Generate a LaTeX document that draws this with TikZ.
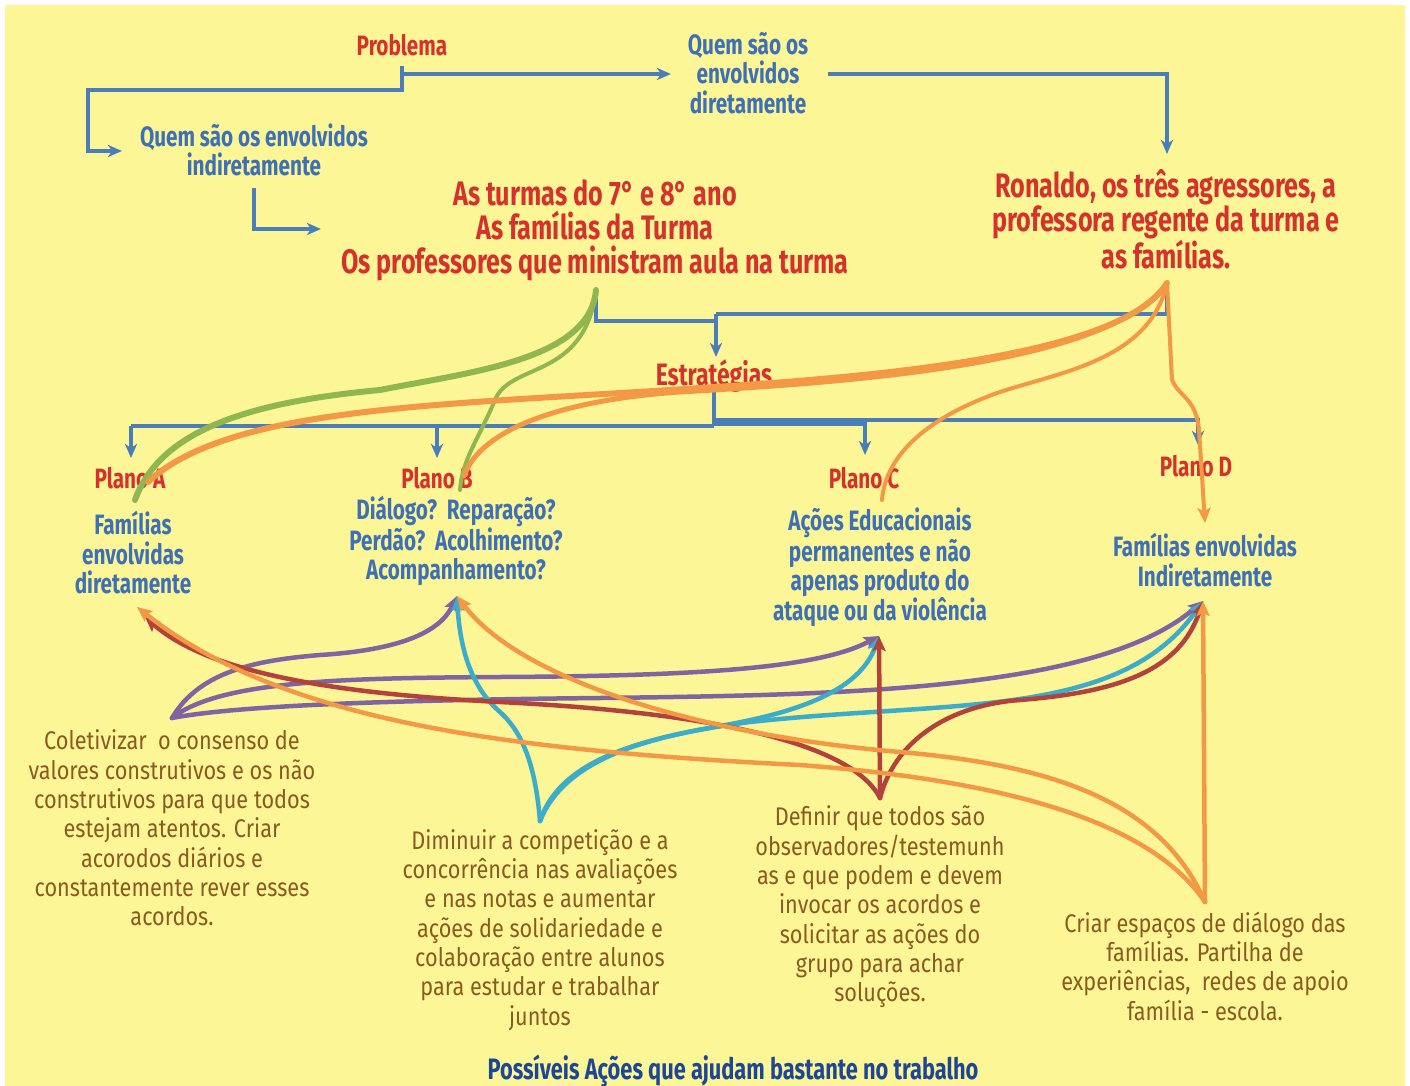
\documentclass[tikz,border=0pt]{standalone}
\usepackage{fontspec}
\usetikzlibrary{arrows.meta}
\newfontfamily\brushfam{Fira Sans}[FakeStretch=0.74]
\newfontfamily\handfam{Fira Sans}[FakeStretch=0.85]
\definecolor{bgy}{RGB}{252,246,150}
\definecolor{tred}{RGB}{214,50,45}
\definecolor{tblue}{RGB}{62,112,182}
\definecolor{tdblue}{RGB}{30,70,150}
\definecolor{cblue}{RGB}{74,126,187}
\definecolor{cgreen}{RGB}{143,182,79}
\definecolor{corange}{RGB}{243,152,68}
\definecolor{cpurple}{RGB}{128,99,161}
\definecolor{ccyan}{RGB}{59,172,201}
\definecolor{cdred}{RGB}{179,66,61}
\definecolor{tbrown}{RGB}{138,90,30}
\newcommand\myfA{\brushfam\bfseries\fontsize{28}{29.5}\selectfont}
\newcommand\myfB{\brushfam\bfseries\fontsize{34}{34}\selectfont}
\newcommand\myfP{\brushfam\bfseries\fontsize{28}{28}\selectfont}
\newcommand\myfE{\brushfam\bfseries\fontsize{31}{31}\selectfont}
\newcommand\myfH{\handfam\fontsize{25.5}{29.3}\selectfont}
\newcommand\myfT{\brushfam\bfseries\fontsize{29.5}{29.5}\selectfont}
\begin{document}
\begin{tikzpicture}[x=1pt,y=-1pt,
  redt/.style={text=tred,align=center,inner sep=0pt},
  bluet/.style={text=tblue,align=center,inner sep=0pt},
  brownt/.style={text=tbrown,align=center,inner sep=0pt,font=\myfH},
  bl/.style={draw=cblue,line width=4.5pt,line join=miter},
  barr/.style={-{Stealth[length=14pt,width=12pt,inset=4pt]}},
  carr/.style={-{Stealth[length=15pt,width=13pt,inset=3pt]}},
  cv/.style={line width=4.5pt,line cap=round},
]
\useasboundingbox (0,0) rectangle (1410,1086);
\fill[white] (0,0) rectangle (1410,1086);
\fill[bgy] (5,5) rectangle (1405,1086);

% ---------------- text nodes
\node[redt,font=\myfP] (probl) at (402,45) {Problema};
\node[bluet,font=\myfA] (dir) at (748,73) {Quem são os\\envolvidos\\diretamente};
\node[bluet,font=\myfA] (indir) at (254,150) {Quem são os envolvidos\\indiretamente};
\node[redt,font=\myfB] (turmas) at (595,230) {As turmas do 7° e 8° ano\\As famílias da Turma\\Os professores que ministram aula na turma};
\node[redt,font=\myfB] (ronaldo) at (1166,219) {Ronaldo, os três agressores, a\\professora regente da turma e\\as famílias.};
\node[redt,font=\myfE] (estr) at (714,376) {Estratégias};
\node[redt,font=\myfP] (pA) at (130,478) {Plano A};
\node[redt,font=\myfP] (pB) at (437,478) {Plano B};
\node[redt,font=\myfP] (pC) at (864,478) {Plano C};
\node[redt,font=\myfP] (pD) at (1196,466) {Plano D};
\node[bluet,font=\myfA] (famA) at (133,553) {Famílias\\envolvidas\\diretamente};
\node[bluet,font=\myfA] (dial) at (456,541) {Diálogo?\ \ Reparação?\\Perdão?\ \ Acolhimento?\\Acompanhamento?};
\node[bluet,font=\myfA] (acoes) at (880,567) {Ações Educacionais\\permanentes e não\\apenas produto do\\ataque ou da violência};
\node[bluet,font=\myfA] (famD) at (1205,560) {Famílias envolvidas\\Indiretamente};
\node[brownt] (colet) at (172,828) {Coletivizar\ \ o consenso de\\valores construtivos e os não\\construtivos para que todos\\estejam atentos. Criar\\acorodos diários e\\constantemente rever esses\\acordos.};
\node[brownt] (dimin) at (540,930) {Diminuir a competição e a\\concorrência nas avaliações\\e nas notas e aumentar\\ações de solidariedade e\\colaboração entre alunos\\para estudar e trabalhar\\juntos};
\node[brownt] (defin) at (880,907) {Definir que todos são\\observadores/testemunh\\as e que podem e devem\\invocar os acordos e\\solicitar as ações do\\grupo para achar\\soluções.};
\node[brownt] (criar) at (1205,966) {Criar espaços de diálogo das\\famílias. Partilha de\\experiências,\ \ redes de apoio\\família - escola.};
\node[text=tdblue,inner sep=0pt,font=\myfT] (titulo) at (733,1071) {Possíveis Ações que ajudam bastante no trabalho};

% ---------------- coordinates
\coordinate (probOut) at (402,66);
\coordinate (probJ) at (402,74);
\coordinate (probJ2) at (402,90);
\coordinate (leftC) at (88,90);
\coordinate (leftD) at (88,151);
\coordinate (indirIn) at (122,151);
\coordinate (dirIn) at (671,74);
\coordinate (dirOut) at (828,74);
\coordinate (ronC) at (1167,74);
\coordinate (ronIn) at (1167,154);
\coordinate (indirOut) at (254,188);
\coordinate (indirC) at (254,229);
\coordinate (turmasIn) at (321,229);
\coordinate (turOut) at (596,290);
\coordinate (turC) at (596,321);
\coordinate (midC) at (716,321);
\coordinate (ronOut) at (1167,288);
\coordinate (ronC2) at (1167,314);
\coordinate (midC2) at (716,314);
\coordinate (estrIn) at (716,357);
\coordinate (estrOut) at (714,392);
\coordinate (estrJ) at (714,426);
\coordinate (aC) at (131,426);
\coordinate (aIn) at (131,458);
\coordinate (bC) at (437,426);
\coordinate (bIn) at (437,458);
\coordinate (estrJc) at (714,424);
\coordinate (cC) at (865,424);
\coordinate (cIn) at (865,455);
\coordinate (estrJd) at (714,420);
\coordinate (dC) at (1198,420);
\coordinate (dIn) at (1198,445);

% ---------------- blue connectors
\draw[bl,barr] (probOut) -- (probJ2) -- (leftC) -- (leftD) -- (indirIn);
\draw[bl,barr] (probJ) -- (dirIn);
\draw[bl,barr] (dirOut) -- (ronC) -- (ronIn);
\draw[bl,barr] (indirOut) -- (indirC) -- (turmasIn);
\draw[bl] (turOut) -- (turC) -- (midC);
\draw[bl] (ronOut) -- (ronC2) -- (midC2);
\draw[bl,barr] (midC2) -- (estrIn);
\draw[bl] (estrOut) -- (estrJ);
\draw[bl] (aC) -- (estrJ);
\draw[bl,barr] (aC) -- (aIn);
\draw[bl,barr] (bC) -- (bIn);
\draw[bl,barr] (estrJc) -- (cC) -- (cIn);
\draw[bl,barr] (estrJd) -- (dC) -- (dIn);

% ---------------- upper curves
\coordinate (gS) at (596,290);
\coordinate (gA) at (135,500);
\coordinate (gB) at (460,490);
\coordinate (oS) at (1167,283);
\coordinate (oA) at (148,482);
\coordinate (oB) at (464,476);
\coordinate (oC) at (882,500);
\coordinate (oD) at (1205,523);
\draw[cgreen,line width=6pt,line cap=round] (gS) .. controls (590,360) and (470,372) .. (380,390) .. controls (250,402) and (160,430) .. (gA);
\draw[cgreen,line width=4pt,line cap=round] (gS) .. controls (585,380) and (510,362) .. (495,400) .. controls (478,440) and (462,460) .. (gB);
\draw[corange,line width=6pt,line cap=round] (oS) .. controls (1120,360) and (850,378) .. (700,388) .. controls (450,405) and (230,405) .. (oA);
\draw[corange,line width=5pt,line cap=round] (oS) .. controls (1110,365) and (850,382) .. (680,392) .. controls (560,400) and (480,430) .. (oB);
\draw[corange,line width=4pt,line cap=round] (oS) .. controls (1150,360) and (1060,372) .. (1000,392) .. controls (920,420) and (885,460) .. (oC);
\draw[corange,line width=4pt,carr] (oS) -- (1172,380) .. controls (1180,398) and (1196,398) .. (1199,430) -- (oD);

% ---------------- lower curves
\coordinate (sP) at (172,718);
\coordinate (sC) at (540,821);
\coordinate (sR) at (880,798);
\coordinate (sO) at (1205,902);
\coordinate (tA1) at (137,607);
\coordinate (tA2) at (145,617);
\coordinate (tB) at (457,596);
\coordinate (tC) at (879,636);
\coordinate (tD) at (1203,601);

\draw[cpurple,cv,carr] (sP) .. controls (200,670) and (260,660) .. (320,655) .. controls (400,650) and (440,632) .. (tB);
\draw[cpurple,cv,carr] (sP) .. controls (220,680) and (350,678) .. (500,677) .. controls (700,676) and (820,668) .. (tC);
\draw[cpurple,cv,carr] (sP) .. controls (240,705) and (400,700) .. (600,698) .. controls (850,695) and (1100,690) .. (tD);

\draw[ccyan,cv,carr] (sC) .. controls (535,760) and (520,730) .. (500,712) .. controls (472,688) and (460,650) .. (tB);
\draw[ccyan,cv,carr] (sC) .. controls (560,760) and (640,740) .. (720,726) .. controls (800,712) and (860,690) .. (tC);
\draw[ccyan,cv,carr] (sC) .. controls (565,758) and (650,735) .. (750,722) .. controls (950,700) and (1120,720) .. (tD);

\draw[cdred,cv,carr] (sR) .. controls (850,740) and (700,712) .. (500,702) .. controls (300,692) and (200,665) .. (tA2);
\draw[cdred,cv,carr] (sR) -- (tC);
\draw[cdred,cv,carr] (sR) .. controls (895,740) and (950,705) .. (1020,700) .. controls (1120,692) and (1180,670) .. (tD);

\draw[corange,cv,carr] (sO) .. controls (1150,820) and (1000,780) .. (800,765) .. controls (500,750) and (280,720) .. (tA1);
\draw[corange,cv,carr] (sO) .. controls (1160,800) and (1050,765) .. (900,752) .. controls (700,735) and (520,680) .. (tB);
\draw[corange,cv,carr] (sO) -- (tD);
\end{tikzpicture}
\end{document}
